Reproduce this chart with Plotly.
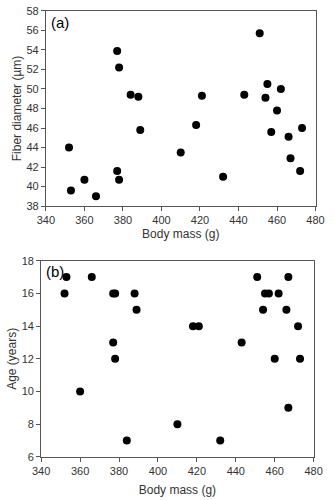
import plotly.graph_objects as go

# Panel (a): body mass (g) vs fiber diameter (µm)
mass_a = [352, 353, 360, 366, 377, 377, 378, 378, 384, 388, 389, 410, 418, 421, 432,
          443, 451, 454, 455, 457, 460, 462, 466, 467, 472, 473]
fiber_a = [44.0, 39.6, 40.7, 39.0, 53.9, 41.6, 52.2, 40.7, 49.4, 49.2, 45.8, 43.5, 46.3, 49.3, 41.0,
           49.4, 55.7, 49.1, 50.5, 45.6, 47.8, 50.0, 45.1, 42.9, 41.6, 46.0]

# Panel (b): body mass (g) vs age (years)
mass_b = [352, 353, 360, 366, 377, 377, 378, 378, 384, 388, 389, 410, 418, 421, 432,
          443, 451, 454, 455, 457, 460, 462, 466, 467, 467, 472, 473]
age_b = [16, 17, 10, 17, 16, 13, 16, 12, 7, 16, 15, 8, 14, 14, 7,
         13, 17, 15, 16, 16, 12, 16, 15, 17, 9, 14, 12]

x_ticks = [340, 360, 380, 400, 420, 440, 460, 480]
ya_ticks = list(range(38, 59, 2))
yb_ticks = list(range(6, 19, 2))

FONT = "Arial, Liberation Sans, sans-serif"
W, H = 334, 500

fig = go.Figure()
marker = dict(color="black", size=8, line=dict(width=0))
fig.add_trace(go.Scatter(x=mass_a, y=fiber_a, mode="markers", marker=marker,
                         xaxis="x", yaxis="y", showlegend=False))
fig.add_trace(go.Scatter(x=mass_b, y=age_b, mode="markers", marker=marker,
                         xaxis="x2", yaxis="y2", showlegend=False))

axis_common = dict(showline=True, linecolor="#555", linewidth=1, mirror=True,
                   ticks="outside", ticklen=4, tickcolor="#555", showgrid=False,
                   zeroline=False, tickfont=dict(family=FONT, size=11, color="#333"))

fig.update_layout(
    width=W, height=H, margin=dict(l=0, r=0, t=0, b=0),
    paper_bgcolor="white", plot_bgcolor="white",
    font=dict(family=FONT, color="#333"),
    xaxis=dict(domain=[39 / W, 324 / W], range=[340, 480], tickvals=x_ticks,
               anchor="y",
               title=dict(text="Body mass (g)", font=dict(size=12), standoff=4),
               **axis_common),
    yaxis=dict(domain=[1 - 205 / H, 1 - 5 / H], range=[38, 58], tickvals=ya_ticks,
               anchor="x",
               title=dict(text="Fiber diameter (µm)", font=dict(size=12), standoff=2),
               **axis_common),
    xaxis2=dict(domain=[34 / W, 322 / W], range=[340, 480], tickvals=x_ticks,
                anchor="y2",
                title=dict(text="Body mass (g)", font=dict(size=12), standoff=9),
                **axis_common),
    yaxis2=dict(domain=[1 - 462 / H, 1 - 261 / H], range=[6, 18], tickvals=yb_ticks,
                anchor="x2",
                title=dict(text="Age (years)", font=dict(size=12), standoff=2),
                **axis_common),
    annotations=[
        dict(text="(a)", xref="x domain", yref="y domain", x=0.01, y=0.995,
             xanchor="left", yanchor="top", showarrow=False,
             font=dict(family=FONT, size=15, color="black")),
        dict(text="(b)", xref="x2 domain", yref="y2 domain", x=0.01, y=1.0,
             xanchor="left", yanchor="top", showarrow=False,
             font=dict(family=FONT, size=15, color="black")),
    ],
)

fig.write_html("out.html")
